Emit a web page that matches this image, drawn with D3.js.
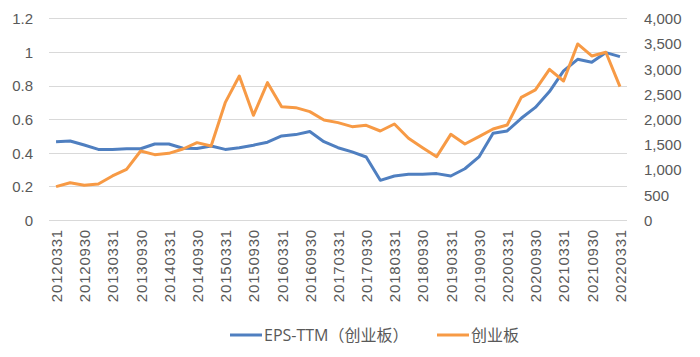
<!DOCTYPE html>
<html><head><meta charset="utf-8">
<script src="https://cdn.jsdelivr.net/npm/d3@7"></script>
<style>
body{margin:0;background:#fff;}
svg{display:block;font-family:"Open Sans","Noto Sans CJK SC",sans-serif;}
</style></head><body>
<svg id="c" width="700" height="357"></svg>
<script>
const categories = ["20120331","20120630","20120930","20121231","20130331","20130630","20130930","20131231",
"20140331","20140630","20140930","20141231","20150331","20150630","20150930","20151231",
"20160331","20160630","20160930","20161231","20170331","20170630","20170930","20171231",
"20180331","20180630","20180930","20181231","20190331","20190630","20190930","20191231",
"20200331","20200630","20200930","20201231","20210331","20210630","20210930","20211231","20220331"];
const epsTTM = [0.466,0.47,0.446,0.42,0.42,0.424,0.424,0.452,0.452,0.427,0.425,0.44,0.42,0.43,0.445,0.463,
0.5,0.508,0.526,0.466,0.43,0.405,0.375,0.236,0.262,0.272,0.272,0.276,0.262,0.305,0.375,0.516,
0.53,0.605,0.67,0.764,0.887,0.956,0.938,0.996,0.972];
const chinext = [661,740,688,714,873,1005,1369,1296,1322,1408,1534,1468,2327,2856,2076,2724,
2248,2228,2149,1984,1931,1851,1878,1765,1904,1620,1435,1256,1699,1508,1653,1805,
1884,2433,2579,2989,2757,3491,3253,3326,2645];
const leftTicks = [0,0.2,0.4,0.6,0.8,1,1.2];
const rightTicks = [0,500,1000,1500,2000,2500,3000,3500,4000];
const seriesNames = ["EPS-TTM（创业板）","创业板"];
const colors = ["#4f7fc0","#f79a45"];

const svg = d3.select("#c");
const L = 49, R = 627, T = 18.3, B = 220;
const x = d3.scalePoint().domain(categories).range([L, R]).padding(0.5);
const yL = d3.scaleLinear().domain([0,1.2]).range([B, T]);
const yR = d3.scaleLinear().domain([0,4000]).range([B, T]);
const txt = "#595959";

// gridlines
svg.append("g").selectAll("line").data(leftTicks).join("line")
  .attr("x1", L).attr("x2", R).attr("y1", d => Math.round(yL(d))+0.5).attr("y2", d => Math.round(yL(d))+0.5)
  .attr("stroke", "#d9d9d9").attr("stroke-width", 1);

// left axis
const axL = svg.append("g").attr("transform", `translate(${L-16},0)`)
  .call(d3.axisLeft(yL).tickValues(leftTicks).tickSize(0).tickPadding(0).tickFormat(d3.format("")));
axL.select(".domain").remove();
axL.selectAll("text").attr("fill", txt).style("font-size", "15px").attr("dy","0.36em");

// right axis
const axR = svg.append("g").attr("transform", `translate(${R+17},0)`)
  .call(d3.axisRight(yR).tickValues(rightTicks).tickSize(0).tickPadding(0).tickFormat(d3.format(",")));
axR.select(".domain").remove();
axR.selectAll("text").attr("fill", txt).style("font-size", "15px").attr("dy","0.36em");

// x axis
const axX = svg.append("g").attr("transform", `translate(0,${B})`)
  .call(d3.axisBottom(x).tickValues(categories.filter((d,i) => i % 2 === 0)).tickSize(0).tickPadding(0));
axX.select(".domain").remove();
axX.selectAll("text").attr("fill", txt).style("font-size", "15px").style("letter-spacing","0.8px")
  .attr("text-anchor", "end").attr("transform", "rotate(-90)")
  .attr("x", -9).attr("y", 0).attr("dy", "0.36em");

// lines
const lineL = d3.line().x((d,i) => x(categories[i])).y(d => yL(d));
const lineR = d3.line().x((d,i) => x(categories[i])).y(d => yR(d));
svg.append("path").datum(epsTTM).attr("d", lineL).attr("fill","none")
  .attr("stroke", colors[0]).attr("stroke-width", 3).attr("stroke-linejoin","round");
svg.append("path").datum(chinext).attr("d", lineR).attr("fill","none")
  .attr("stroke", colors[1]).attr("stroke-width", 3).attr("stroke-linejoin","round");

// legend
const legX = [230, 437];
const lg = svg.append("g");
seriesNames.forEach((n, i) => {
  lg.append("line").attr("x1", legX[i]).attr("x2", legX[i]+32).attr("y1", 335).attr("y2", 335)
    .attr("stroke", colors[i]).attr("stroke-width", 3);
  lg.append("text").attr("x", legX[i]+34).attr("y", 335).attr("dy","0.36em")
    .attr("fill", txt).style("font-size","16px").text(n);
});
</script>
</body></html>
